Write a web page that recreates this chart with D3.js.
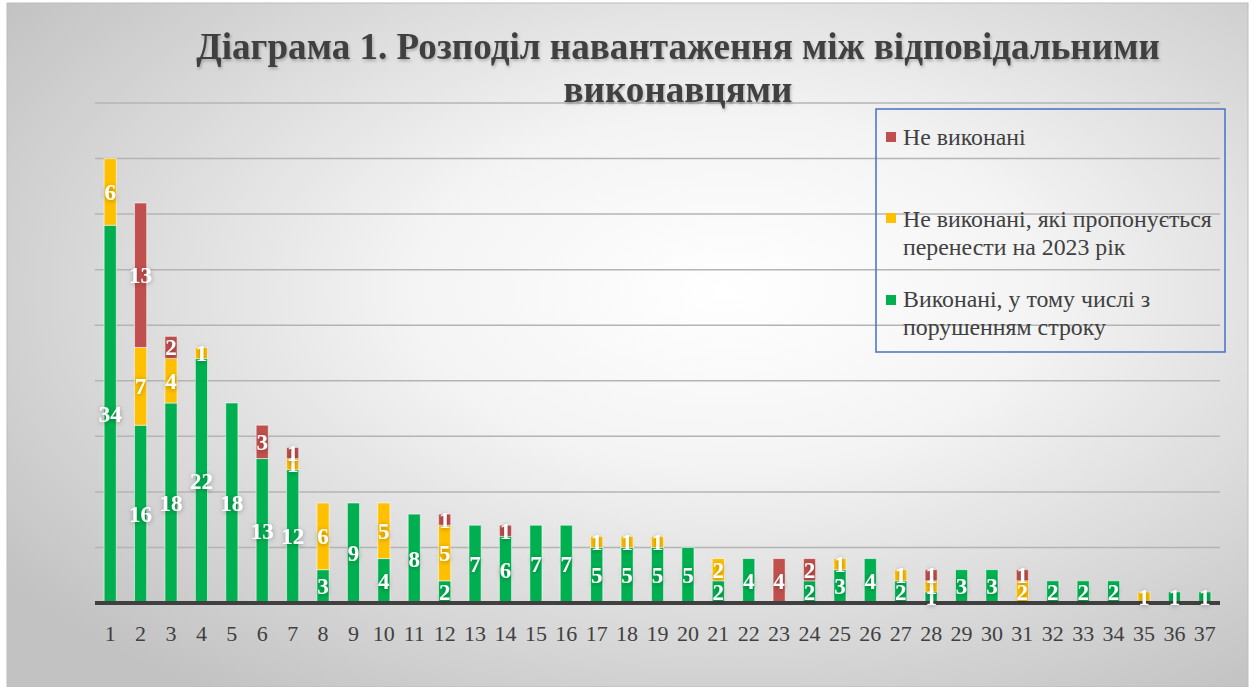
<!DOCTYPE html>
<html>
<head>
<meta charset="utf-8">
<script src="https://cdn.jsdelivr.net/npm/d3@7"></script>
<style>
  html, body { margin: 0; padding: 0; background: #ffffff; }
  svg { display: block; }
</style>
</head>
<body>
<svg id="chart" width="1256" height="687"></svg>
<script>
const categories = ["1","2","3","4","5","6","7","8","9","10","11","12","13","14","15","16","17","18","19","20","21","22","23","24","25","26","27","28","29","30","31","32","33","34","35","36","37"];
const done      = [34,16,18,22,18,13,12,3,9,4,8,2,7,6,7,7,5,5,5,5,2,4,0,2,3,4,2,1,3,3,0,2,2,2,0,1,1];
const moved     = [6,7,4,1,0,0,1,6,0,5,0,5,0,0,0,0,1,1,1,0,2,0,0,0,1,0,1,1,0,0,2,0,0,0,1,0,0];
const notDone   = [0,13,2,0,0,3,1,0,0,0,0,1,0,1,0,0,0,0,0,0,0,0,4,2,0,0,0,1,0,0,1,0,0,0,0,0,0];
const yTicks    = [0,5,10,15,20,25,30,35,40,45];
const titleLines = ["Діаграма 1. Розподіл навантаження між відповідальними", "виконавцями"];
const seriesNames = ["Виконані, у тому числі з порушенням строку", "Не виконані, які пропонується перенести на 2023 рік", "Не виконані"];
const seriesKeys = ["done","moved","notDone"];
const seriesColors = ["#00b050", "#ffc000", "#c0504d"];

const svg = d3.select("#chart");
const W = 1256, H = 687;

const defs = svg.append("defs");
const rg = defs.append("radialGradient").attr("id","bg")
  .attr("cx","58%").attr("cy","42%").attr("r","72%")
  .attr("gradientUnits","objectBoundingBox");
rg.append("stop").attr("offset","0%").attr("stop-color","#ffffff");
rg.append("stop").attr("offset","35%").attr("stop-color","#f4f4f4");
rg.append("stop").attr("offset","100%").attr("stop-color","#c2c2c2");

const sh = defs.append("filter").attr("id","lblshadow").attr("x","-50%").attr("y","-50%").attr("width","200%").attr("height","200%");
sh.append("feDropShadow").attr("dx",0).attr("dy",1).attr("stdDeviation",2.5).attr("flood-color","#000").attr("flood-opacity",0.35);
const tsh = defs.append("filter").attr("id","titleshadow").attr("x","-5%").attr("y","-20%").attr("width","110%").attr("height","150%");
tsh.append("feDropShadow").attr("dx",1).attr("dy",2).attr("stdDeviation",1.5).attr("flood-color","#000").attr("flood-opacity",0.25);

// background panel
svg.append("rect").attr("x",7).attr("y",3).attr("width",1241).attr("height",H-3)
  .attr("fill","url(#bg)").attr("stroke","#bdbdbd").attr("stroke-width",1);

const x0 = 95, x1 = 1220, yBase = 603, yTop = 103;
const x = d3.scaleBand().domain(categories).range([x0, x1]).paddingInner(0.6).paddingOuter(0.3);
const y = d3.scaleLinear().domain([0, 45]).range([yBase, yTop]);

// gridlines
svg.append("g").selectAll("line").data(yTicks.filter(d => d > 0)).join("line")
  .attr("x1", x0).attr("x2", x1)
  .attr("y1", d => y(d)).attr("y2", d => y(d))
  .attr("stroke", "#b4b4b4").attr("stroke-width", 1.5);

// stacked data
const rows = categories.map((c, i) => ({cat: c, done: done[i], moved: moved[i], notDone: notDone[i]}));
const stack = d3.stack().keys(seriesKeys)(rows);

const gBars = svg.append("g");
stack.forEach((layer, li) => {
  gBars.append("g").selectAll("rect").data(layer.filter(d => d[1] - d[0] > 0)).join("rect")
    .attr("x", d => x(d.data.cat))
    .attr("width", x.bandwidth())
    .attr("y", d => y(d[1]))
    .attr("height", d => y(d[0]) - y(d[1]))
    .attr("fill", seriesColors[li])
    .attr("stroke", "rgba(255,255,255,0.55)")
    .attr("stroke-width", 1);
});

// x axis
const xAxis = d3.axisBottom(x).tickSize(0).tickPadding(0);
const gx = svg.append("g").attr("transform", `translate(0,${yBase})`).call(xAxis);
gx.select(".domain").remove();
gx.selectAll("text")
  .attr("y", 30).attr("dy", "0.35em")
  .attr("font-family", "'Liberation Serif','Times New Roman',serif")
  .attr("font-size", 22).attr("fill", "#404040");
svg.append("line").attr("x1", x0).attr("x2", x1).attr("y1", yBase).attr("y2", yBase)
  .attr("stroke", "#404040").attr("stroke-width", 4);

// labels
const gLab = svg.append("g");
stack.forEach((layer, li) => {
  gLab.append("g").selectAll("text").data(layer.filter(d => d[1] - d[0] > 0)).join("text")
    .attr("x", d => x(d.data.cat) + x.bandwidth() / 2)
    .attr("y", d => (y(d[0]) + y(d[1])) / 2)
    .attr("dy", "0.35em")
    .attr("text-anchor", "middle")
    .attr("font-family", "'Liberation Serif','Times New Roman',serif")
    .attr("font-weight", "bold")
    .attr("font-size", 23)
    .attr("fill", "#ffffff")
    .attr("filter", "url(#lblshadow)")
    .text(d => d[1] - d[0]);
});

// title
const title = svg.append("g").attr("filter", "url(#titleshadow)");
const t1 = title.append("text").attr("x", 678).attr("y", 59).attr("text-anchor", "middle")
  .attr("font-family", "'Liberation Serif','Times New Roman',serif").attr("font-weight", "bold")
  .attr("font-size", 34).attr("fill", "#404040").text(titleLines[0]);
const w1 = t1.node().getComputedTextLength();
const fs = 34 * 964 / w1;
t1.attr("font-size", fs);
title.append("text").attr("x", 678).attr("y", 102).attr("text-anchor", "middle")
  .attr("font-family", "'Liberation Serif','Times New Roman',serif").attr("font-weight", "bold")
  .attr("font-size", fs).attr("fill", "#404040").text(titleLines[1]);

// legend
svg.append("rect").attr("x", 876).attr("y", 109).attr("width", 349).attr("height", 243)
  .attr("fill", "none").attr("stroke", "#4472c4").attr("stroke-width", 1.5);
const legendItems = [
  {color: seriesColors[2], lines: ["Не виконані"], sq: 132, base: [145]},
  {color: seriesColors[1], lines: ["Не виконані, які пропонується", "перенести на 2023 рік"], sq: 213, base: [227, 255]},
  {color: seriesColors[0], lines: ["Виконані, у тому числі з", "порушенням строку"], sq: 295, base: [307, 335]}
];
const lg = svg.append("g");
legendItems.forEach(it => {
  lg.append("rect").attr("x", 886).attr("y", it.sq).attr("width", 10).attr("height", 10).attr("fill", it.color);
  it.lines.forEach((ln, k) => {
    lg.append("text").attr("x", 903).attr("y", it.base[k])
      .attr("font-family", "'Liberation Serif','Times New Roman',serif")
      .attr("font-size", 21).attr("fill", "#404040").attr("class", "lgt").text(ln);
  });
});
// fit legend font to reference width of longest line (~309px)
const longest = lg.selectAll(".lgt").filter(function() { return this.textContent === "Не виконані, які пропонується"; }).node();
const lw = longest.getComputedTextLength();
lg.selectAll(".lgt").attr("font-size", 21 * 309 / lw);
</script>
</body>
</html>
